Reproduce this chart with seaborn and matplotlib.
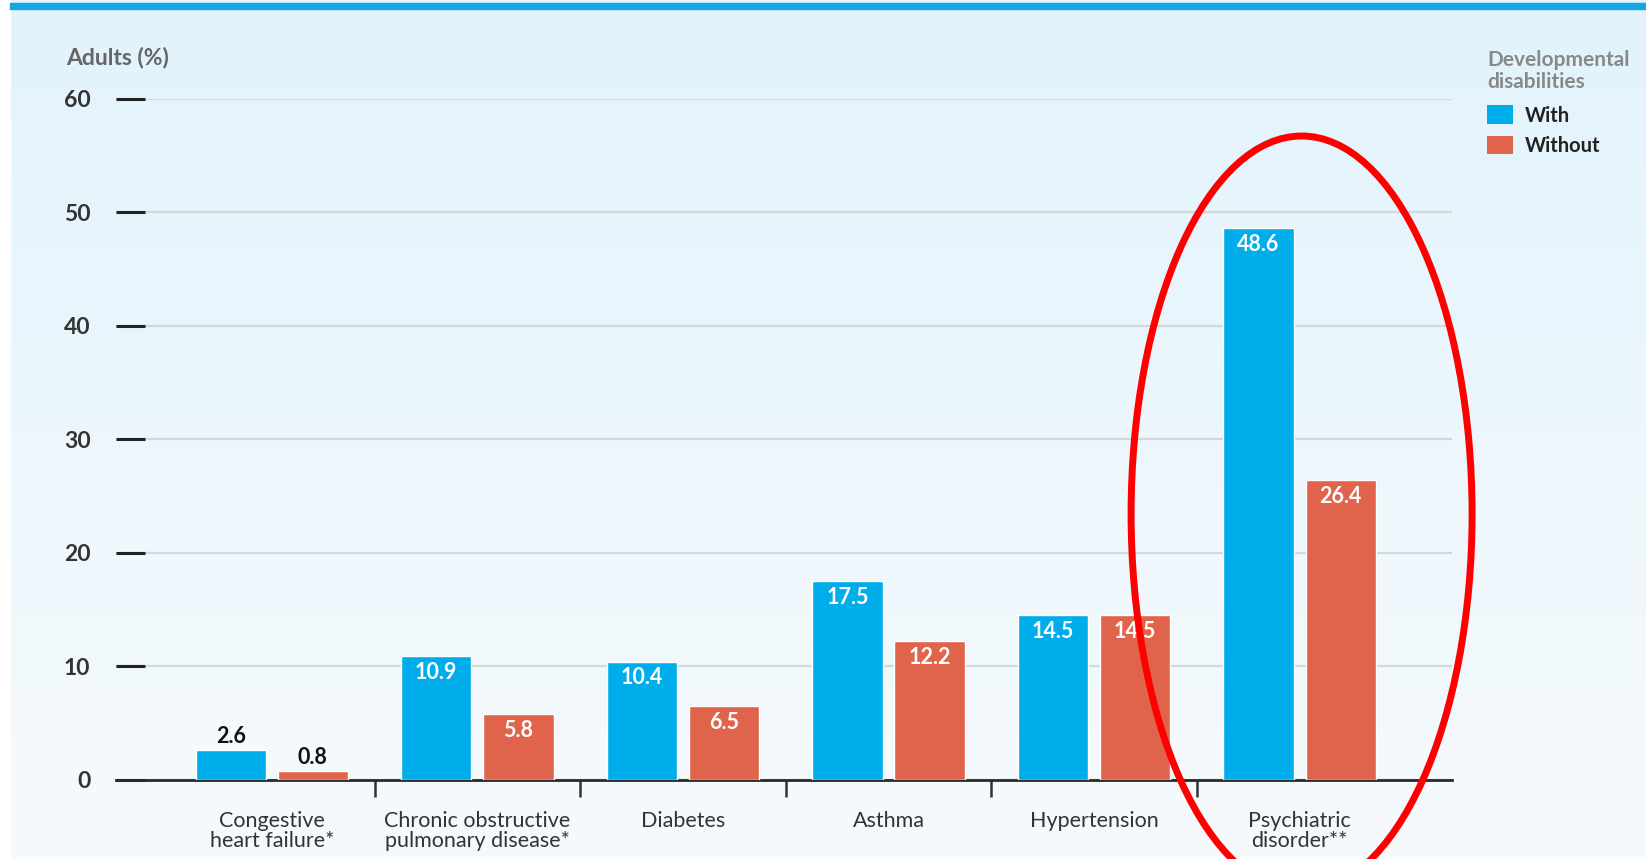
import numpy as np
import pandas as pd
import matplotlib
matplotlib.use("Agg")
import matplotlib.pyplot as plt
from matplotlib.patches import Ellipse, Patch, Rectangle
from matplotlib.colors import LinearSegmentedColormap
import seaborn as sns

categories = ["Congestive\nheart failure*", "Chronic obstructive\npulmonary disease*",
              "Diabetes", "Asthma", "Hypertension", "Psychiatric\ndisorder**"]
with_dd = [2.6, 10.9, 10.4, 17.5, 14.5, 48.6]
without_dd = [0.8, 5.8, 6.5, 12.2, 14.5, 26.4]
groups = ["With", "Without"]
yticks = [0, 10, 20, 30, 40, 50, 60]

BLUE = "#00adeb"
RED = "#e0644b"

sns.set_theme(style="white")
plt.rcParams["font.family"] = ["Lato", "DejaVu Sans"]

df = pd.DataFrame({
    "category": categories * 2,
    "group": [groups[0]] * len(categories) + [groups[1]] * len(categories),
    "value": with_dd + without_dd,
})

fig = plt.figure(figsize=(16.46, 8.59), dpi=100)

# background gradient
bg = fig.add_axes([0, 0, 1, 1], zorder=-10)
grad = np.linspace(0, 1, 256).reshape(-1, 1)
cmap = LinearSegmentedColormap.from_list("bg", ["#e2f3fc", "#f6fafd"])
bg.imshow(grad, aspect="auto", cmap=cmap, extent=[0, 1, 0, 1], origin="upper")
bg.add_patch(Rectangle((0, 0), 10 / 1646, 1, color="white", transform=bg.transAxes))
bg.add_patch(Rectangle((10 / 1646, 1 - 9 / 859), 1, 6 / 859, color="#14a6e2", transform=bg.transAxes))
bg.set_xlim(0, 1); bg.set_ylim(0, 1)
bg.axis("off")

ax = fig.add_axes([0.0702, 0.092, 0.8118, 0.793])
ax.set_facecolor("none")
sns.barplot(data=df, x="category", y="value", hue="group", hue_order=groups,
            palette=[BLUE, RED], width=0.8, gap=0.145, saturation=1,
            legend=False, ax=ax, zorder=3)

ax.set_ylim(0, 60)
ax.set_xlim(-0.76, 5.74)
ax.set_yticks(yticks)
ax.yaxis.grid(True, color="#d3d8db", linewidth=1.6, zorder=0)
ax.set_axisbelow(True)
for s in ["left", "right", "top"]:
    ax.spines[s].set_visible(False)
ax.spines["bottom"].set_color("#2a2a2a")
ax.spines["bottom"].set_linewidth(2)
ax.tick_params(axis="y", left=True, direction="in", length=21, width=2.2, color="#222222",
               pad=18, labelsize=16.5, labelcolor="#333333")
for lab in ax.get_yticklabels():
    lab.set_fontweight("bold")
ax.set_xlabel(""); ax.set_ylabel("")
ax.set_xticks(range(len(categories)))
ax.set_xticklabels(categories, fontsize=15.5, color="#333333", linespacing=1.0)
ax.tick_params(axis="x", which="major", bottom=False, length=0, pad=22)
ax.set_xticks(np.arange(0.5, len(categories) - 0.5, 1), minor=True)
ax.tick_params(axis="x", which="minor", bottom=True, direction="out", length=12, width=1.8,
               color="#333333")

# value labels
for cont in ax.containers:
    for bar in cont:
        h = bar.get_height()
        x = bar.get_x() + bar.get_width() / 2
        if h < 5:
            ax.annotate(f"{h:.1f}", (x, h), xytext=(0, 10), textcoords="offset points",
                        ha="center", va="center", fontsize=15.5, fontweight="bold", color="#111111")
        else:
            ax.annotate(f"{h:.1f}", (x, h), xytext=(0, -11.5), textcoords="offset points",
                        ha="center", va="center", fontsize=15.5, fontweight="bold", color="white")

fig.text(66 / 1646, 1 - 58 / 859, "Adults (%)", fontsize=16.5, fontweight="bold",
         color="#666666", va="center", ha="left")

handles = [Patch(facecolor=BLUE, edgecolor="none"), Patch(facecolor=RED, edgecolor="none")]
leg = fig.legend(handles, groups, title="Developmental\ndisabilities",
                 loc="upper left", bbox_to_anchor=(1487 / 1646, 1 - 50 / 859),
                 frameon=False, fontsize=14.5, title_fontsize=15, handlelength=1.3,
                 handleheight=1.05, handletextpad=0.6, labelspacing=0.5, borderaxespad=0,
                 borderpad=0)
leg.get_title().set_fontweight("bold")
leg.get_title().set_color("#888888")
leg.get_title().set_linespacing(1.1)
leg._legend_box.align = "left"
leg._legend_box.sep = 10
for t in leg.get_texts():
    t.set_color("#222222")
    t.set_fontweight("bold")

# red highlight ellipse
ell = Ellipse((1301.6 / 1646, 1 - 514 / 859), 341 / 1646, 756 / 859,
              transform=fig.transFigure, fill=False, edgecolor="#ff0000", linewidth=5, zorder=20)
fig.patches.append(ell)

fig.savefig("out.png", dpi=100)
